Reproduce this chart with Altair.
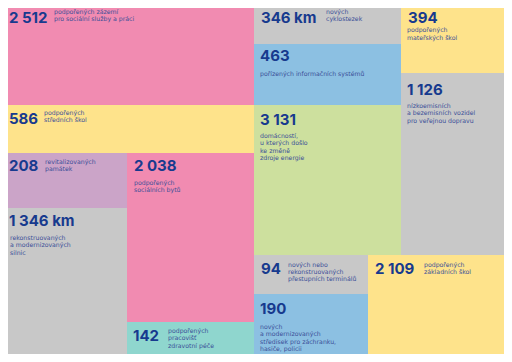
import altair as alt
import pandas as pd

# ---- data ----
values = ["2 512", "586", "208", "2 038", "1 346 km", "142", "346 km",
          "463", "3 131", "394", "1 126", "94", "2 109", "190"]
labels = [
    "podpořených zázemí\npro sociální služby a práci",
    "podpořených\nstředních škol",
    "revitalizovaných\npamátek",
    "podpořených\nsociálních bytů",
    "rekonstruovaných\na modernizovaných\nsilnic",
    "podpořených\npracovišť\nzdravotní péče",
    "nových\ncyklostezek",
    "pořízených informačních systémů",
    "domácností,\nu kterých došlo\nke změně\nzdroje energie",
    "podpořených\nmateřských škol",
    "nízkoemisních\na bezemisních vozidel\npro veřejnou dopravu",
    "nových nebo\nrekonstruovaných\npřestupních terminálů",
    "podpořených\nzákladních škol",
    "nových\na modernizovaných\nstředisek pro záchranku,\nhasiče, policii",
]
categories = ["sociální", "vzdělávání", "kultura", "sociální", "doprava",
              "zdravotnictví", "doprava", "digitalizace", "energie",
              "vzdělávání", "doprava", "doprava", "vzdělávání", "bezpečnost"]

# ---- layout of the tiles (reference pixel grid) ----
tile_x0 = [0, 0, 0, 127, 0, 127, 254, 254, 254, 401, 401, 254, 368, 254]
tile_x1 = [254, 254, 127, 254, 127, 254, 401, 401, 401, 512, 512, 368, 512, 368]
tile_y0 = [0, 105, 153, 153, 208, 322, 0, 44, 105, 0, 73, 255, 255, 294]
tile_y1 = [105, 153, 208, 322, 362, 362, 44, 105, 255, 73, 255, 294, 362, 362]
num_x = [9, 9, 9, 134, 9, 133, 261, 260, 260, 408, 407, 261, 375, 260]
num_y = [22.8, 123.5, 171, 171, 226, 341, 22.8, 61, 125, 22.8, 95, 274, 274, 314.3]
lab_x = [54, 44, 45, 134, 10, 168, 326, 260, 260, 407, 407, 288, 424, 260]
lab_y = [14, 115, 164, 185, 240, 333, 14, 75.5, 138, 32.4, 108, 266.5, 266.5, 329]

cat_domain = ["sociální", "vzdělávání", "kultura", "doprava", "zdravotnictví",
              "digitalizace", "energie", "bezpečnost"]
cat_colors = ["#F18BB1", "#FEE38B", "#CBA4C8", "#C8C8C8", "#8FD6CE",
              "#8CC0E2", "#CDE09E", "#8CC0E2"]

df = pd.DataFrame({
    "value": values, "label": labels, "cat": categories,
    "x0": tile_x0, "x1": tile_x1, "y0": tile_y0, "y1": tile_y1,
    "nx": num_x, "ny": num_y, "lx": lab_x, "ly": lab_y,
})

# page margin is 8px: map reference pixel 8 to the chart's origin (1:1 scale)
xs = alt.Scale(domain=[8, 504], nice=False, zero=False)
ys = alt.Scale(domain=[8, 354], nice=False, zero=False, reverse=True)

base = alt.Chart(df)

tiles = base.mark_rect(clip=True, strokeWidth=0).encode(
    x=alt.X("x0:Q", scale=xs, axis=None),
    x2="x1:Q",
    y=alt.Y("y0:Q", scale=ys, axis=None),
    y2="y1:Q",
    color=alt.Color("cat:N", scale=alt.Scale(domain=cat_domain, range=cat_colors), legend=None),
)

nums = base.mark_text(
    align="left", baseline="alphabetic", font="Inter", fontWeight=700,
    fontSize=15, color="#173A8E",
).encode(
    x=alt.X("nx:Q", scale=xs, axis=None),
    y=alt.Y("ny:Q", scale=ys, axis=None),
    text="value:N",
)

labs = base.mark_text(
    align="left", baseline="alphabetic", font="DejaVu Sans", fontWeight=400,
    fontSize=6.2, lineHeight=7.3, lineBreak="\n", color="#3B4F98",
).encode(
    x=alt.X("lx:Q", scale=xs, axis=None),
    y=alt.Y("ly:Q", scale=ys, axis=None),
    text="label:N",
)

chart = alt.layer(tiles, nums, labs).properties(
    width=496, height=346, padding=0, autosize="none", background="white"
).configure_view(strokeWidth=0)

chart.save("out.html", embed_options={"renderer": "svg", "actions": False})
